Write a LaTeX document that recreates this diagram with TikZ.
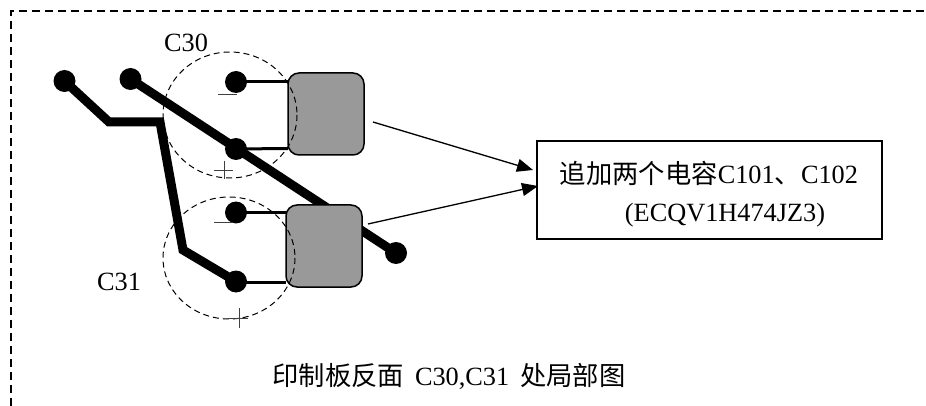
\documentclass[tikz,border=0pt]{standalone}
\usepackage{fontspec}
\setmainfont{Liberation Serif}
\newfontfamily\cjk{Noto Sans CJK SC}
\usetikzlibrary{arrows.meta}
\tikzset{
  x=1pt,y=-1pt,
  pad/.style={circle,fill=black,draw=none,minimum size=22pt,inner sep=0pt},
  trace/.style={line width=9pt,line join=miter},
  wire/.style={line width=3pt},
  cap box/.style={draw=black,line width=1.5pt,fill=black!40,rounded corners=11pt,minimum width=76pt,minimum height=82pt,inner sep=0pt},
  ring/.style={draw=black,line width=1pt,dash pattern=on 6pt off 4pt},
  frame/.style={draw=black,line width=1.3pt,dash pattern=on 8pt off 5pt},
  pol/.style={draw=black!75,line width=1pt},
  lbl/.style={font=\fontsize{26.3pt}{30pt}\selectfont,inner sep=0pt,anchor=base},
  call/.style={line width=1.3pt,-{Triangle[length=16pt,width=13pt]}},
  note box/.style={draw=black,line width=1.6pt,minimum width=345pt,minimum height=98pt,inner sep=0pt}
}
\begin{document}
\begin{tikzpicture}
\useasboundingbox (0,0) rectangle (926,406);
\coordinate (fa) at (11,406);
\coordinate (fb) at (11,11);
\coordinate (fc) at (926,11);
\draw[frame] (fa) -- (fb) -- (fc);

\node[pad] (p1) at (64.5,81) {};
\node[pad] (p2) at (130.5,79) {};
\node[pad] (p3) at (236,82) {};
\node[pad] (p4) at (236,149) {};
\node[pad] (p5) at (236,212.5) {};
\node[pad] (p6) at (236,281.5) {};
\node[pad] (p7) at (396,253) {};

\coordinate (b1) at (109,122);
\coordinate (b2) at (160,122);
\coordinate (b3) at (183,250);
\draw[trace] (p1.center) -- (b1) -- (b2) -- (b3) -- (p6.center);
\draw[trace] (p2.center) -- (p7.center);

\node[cap box] (c1) at (326,114) {};
\node[cap box] (c2) at (324,246) {};

\coordinate (w1) at (288,82);
\coordinate (w2) at (288,148.5);
\coordinate (w3) at (286,212.5);
\coordinate (w4) at (286,282.5);
\draw[wire] (p3.center) -- (w1);
\draw[wire] (p4.center) -- (w2);
\draw[wire] (p5.center) -- (w3);
\draw[wire] (p6.center |- w4) -- (w4);

\draw[ring] (230,115) ellipse [x radius=67,y radius=63];
\draw[ring] (229,258) ellipse [x radius=66,y radius=61];

\draw[pol] (218,95) -- (237,95);
\draw[pol] (214,171) -- (233,171) (224,161) -- (224,179);
\draw[pol] (214,223) -- (233,223);
\draw[pol] (228,318) -- (248,318) (239,308) -- (239,328);

\node[lbl] (t30) at (186,52) {C30};
\node[lbl] (t31) at (119,290) {C31};

\node[note box] (box) at (709.5,190) {};
\node[lbl] (l1) at (709,184) {{\cjk 追加两个电容}C101{\cjk 、}C102};
\node[lbl] (l2) at (725,222) {(ECQV1H474JZ3)};
\node[lbl] (cap) at (449,385) {{\cjk 印制板反面}\hspace{11pt}C30,C31\hspace{11pt}{\cjk 处局部图}};

\coordinate (a1) at (373,122);
\coordinate (a2) at (533,170);
\coordinate (a3) at (368,224);
\coordinate (a4) at (538,186);
\draw[call] (a1) -- (a2);
\draw[call] (a3) -- (a4);
\end{tikzpicture}
\end{document}
